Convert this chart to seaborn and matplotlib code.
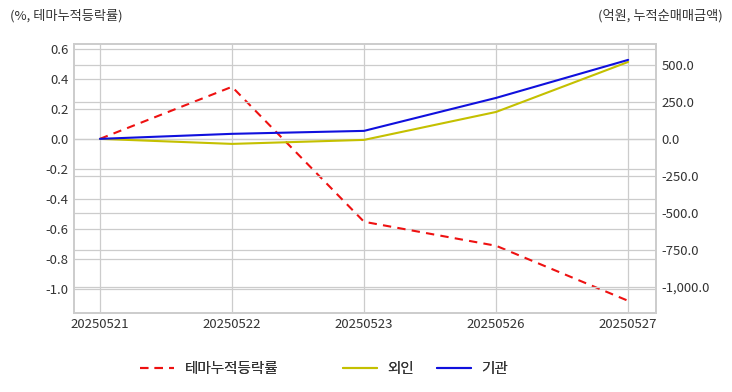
import pandas as pd
import matplotlib.pyplot as plt
import seaborn as sns

# data
dates = ['20250521', '20250522', '20250523', '20250526', '20250527']
theme_rate = [0.0, 0.347, -0.553, -0.713, -1.08]     # %, 테마누적등락률
foreign = [0.0, -34.0, -7.0, 182.0, 520.0]           # 억원, 외인
institution = [0.0, 34.0, 54.0, 277.0, 534.0]        # 억원, 기관

df = pd.DataFrame({'date': dates, 'theme': theme_rate,
                   'foreign': foreign, 'inst': institution})
df['x'] = range(len(dates))

sns.set_style("whitegrid")
plt.rcParams['font.family'] = ['Noto Sans CJK KR', 'DejaVu Sans']

fig, ax = plt.subplots(figsize=(7.32, 3.92), dpi=100)
fig.subplots_adjust(left=0.101, right=0.896, top=0.888, bottom=0.202)
ax2 = ax.twinx()

sns.lineplot(data=df, x='x', y='theme', ax=ax, color='#ee1111',
             linestyle=(0, (4, 3)), linewidth=1.5, label='테마누적등락률', legend=False)
sns.lineplot(data=df, x='x', y='foreign', ax=ax2, color='#c4c000',
             linewidth=1.5, label='외인', legend=False)
sns.lineplot(data=df, x='x', y='inst', ax=ax2, color='#1010dd',
             linewidth=1.5, label='기관', legend=False)

ax.set_xlim(-0.197, 4.21)
ax.set_ylim(-1.16, 0.633)
ax2.set_ylim(-1176, 642)
ax.set_xticks(df['x'])
ax.set_xticklabels(dates)
ax.set_yticks([0.6, 0.4, 0.2, 0.0, -0.2, -0.4, -0.6, -0.8, -1.0])
ax.set_yticklabels(['%.1f' % v for v in ax.get_yticks()])
ax2.set_yticks([500, 250, 0, -250, -500, -750, -1000])
ax2.set_yticklabels(['{:,.1f}'.format(v) for v in ax2.get_yticks()])
ax.set_xlabel('')
ax.set_ylabel('')
ax2.set_ylabel('')

for a in (ax, ax2):
    a.grid(True, color='#cccccc', linewidth=0.9)
    a.tick_params(labelsize=9.5, colors='#333333', length=0, pad=4)
    for s in a.spines.values():
        s.set_color('#cccccc')
        s.set_linewidth(1.2)
ax2.grid(True, axis='y', color='#cccccc', linewidth=0.9)
ax2.grid(False, axis='x')

fig.text(0.013, 0.96, '(%, 테마누적등락률)', fontsize=9.5, color='#333333', va='center')
fig.text(0.987, 0.96, '(억원, 누적순매매금액)', fontsize=9.5, color='#333333',
         va='center', ha='right')

# legend entries placed one by one, as in the reference
h1, l1 = ax.get_legend_handles_labels()
h2, l2 = ax2.get_legend_handles_labels()
handles = h1 + h2
labels = l1 + l2
legend_x = [140, 343, 437]
for h, l, px in zip(handles, labels, legend_x):
    leg = fig.legend([h], [l], loc='center left', bbox_to_anchor=(px / 732, 0.058),
                     frameon=False, fontsize=10.5, handlelength=2.3,
                     handletextpad=0.75, borderpad=0, borderaxespad=0,
                     labelcolor='#333333')
    fig.add_artist(leg)

fig.savefig('out.png', dpi=100)
